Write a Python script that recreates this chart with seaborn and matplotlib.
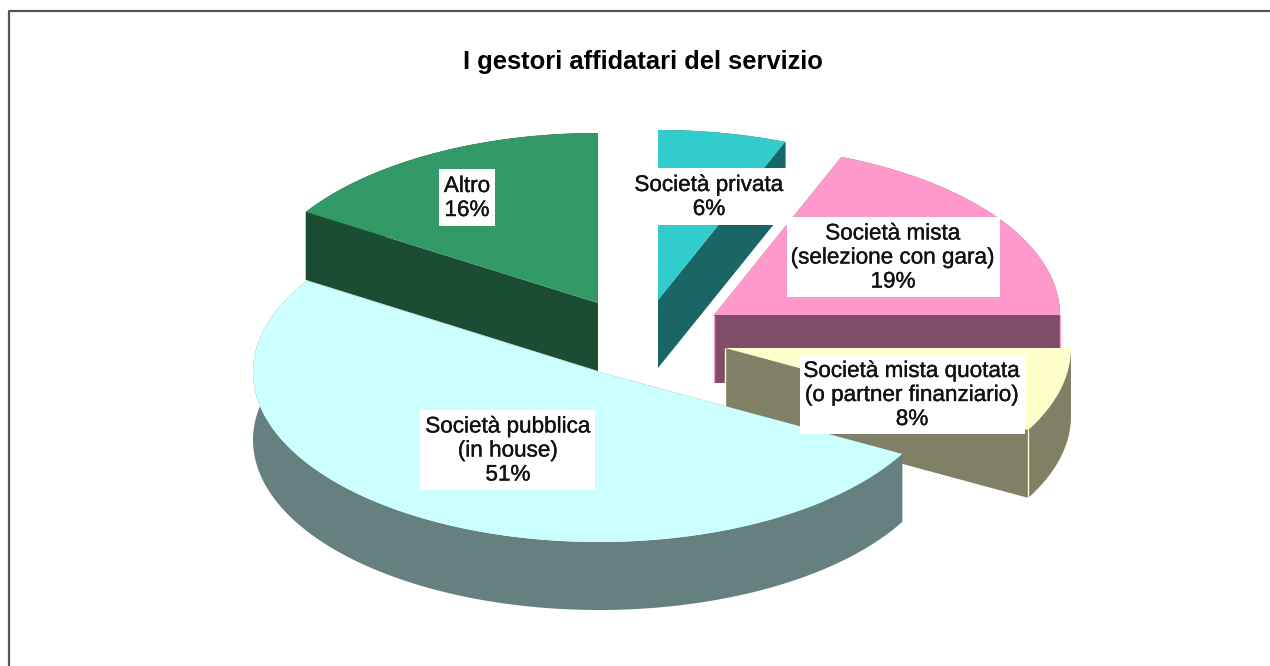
import numpy as np
import pandas as pd
import matplotlib
matplotlib.use("Agg")
import matplotlib.pyplot as plt
import matplotlib.patheffects as pe
import seaborn as sns

# Share of operators by type, in percent
categories = ["Società privata", "Società mista\n(selezione con gara)",
              "Società mista quotata\n(o partner finanziario)",
              "Società pubblica\n(in house)", "Altro"]
shares = [6, 19, 8, 51, 16]
top_colors = ["#33CCCC", "#FF99CC", "#FFFFCC", "#CCFFFF", "#339966"]
wall_colors = ["#1A6666", "#804D66", "#808066", "#668080", "#1A4D33"]
title_text = "I gestori affidatari del servizio"

# Slice apex positions (exploded pie) and label boxes, in canvas pixels
apex_x = [658, 714, 725, 599, 598]
apex_y = [300, 315, 348, 372, 303]
box_left = [631, 787, 800, 420, 439]
box_right = [787, 1000, 1025, 595, 495]
box_top = [168, 217, 355, 410, 169]
box_bottom = [225, 297, 434, 490, 226]
label_x = [709, 893, 912, 508, 467]
seamed = [False, True, True, False, False]

RX, RY, DEPTH = 346, 170, 68
W, H = 1270, 666

sns.set_theme(style="white")
plt.rcParams["font.family"] = ["Liberation Sans", "DejaVu Sans"]

table = pd.DataFrame({"label": categories, "share": shares, "top": top_colors,
                      "wall": wall_colors, "ax": apex_x, "ay": apex_y,
                      "l": box_left, "r": box_right, "t": box_top, "b": box_bottom,
                      "tx": label_x, "seam": seamed})
table["end"] = table["share"].cumsum() / table["share"].sum() * 2 * np.pi
table["start"] = table["end"].shift(fill_value=0.0)

fig = plt.figure(figsize=(W / 100, H / 100), dpi=100, facecolor="white")
ax = fig.add_axes([0, 0, 1, 1])
ax.set_xlim(0, W)
ax.set_ylim(H, 0)
ax.axis("off")


def rim(row, n=160):
    """Outer edge of a slice; angles run clockwise from twelve o'clock."""
    theta = np.linspace(row.start, row.end, n)
    return row.ax + RX * np.sin(theta), row.ay - RY * np.cos(theta)


def draw_slice(row, order):
    xs, ys = rim(row)
    # Cut faces first, then the curved outer wall on its lower half
    for x_end, y_end in [(xs[0], ys[0]), (xs[-1], ys[-1])]:
        ax.fill([row.ax, x_end, x_end, row.ax],
                [row.ay, y_end, y_end + DEPTH, row.ay + DEPTH],
                color=row.wall, lw=0, zorder=order)
    ax.fill(np.r_[xs, xs[::-1]], np.r_[ys, ys[::-1] + DEPTH],
            color=row.wall, lw=0, zorder=order)
    ax.fill(np.r_[row.ax, xs], np.r_[row.ay, ys], color=row.top, lw=0, zorder=order + 0.5)
    if row.seam:
        for x_end, y_end in [(row.ax, row.ay), (xs[-1], ys[-1])]:
            ax.plot([x_end, x_end], [y_end, y_end + DEPTH], color=row.top, lw=1.0,
                    solid_capstyle="butt", zorder=order + 0.6)


# Back slices are painted before the front ones
for order, idx in enumerate([4, 0, 1, 2, 3]):
    draw_slice(table.iloc[idx], order + 1)

# A hairline stroke gives the labels their slightly heavy look
heavier = [pe.withStroke(linewidth=0.25, foreground="#111111")]
for row in table.itertuples():
    ax.fill([row.l, row.r, row.r, row.l], [row.t, row.t, row.b, row.b],
            color="white", lw=0, zorder=10)
    ax.text(row.tx, (row.t + row.b) / 2 + 1,
            f"{row.label}\n{row.share}%", ha="center", va="center",
            fontsize=16.2, color="#111111", linespacing=1.19, zorder=11,
            path_effects=heavier)

ax.text(642.5, 62, title_text, ha="center", va="center", fontsize=18.4,
        fontweight="bold", color="black")

# Chart frame: only the top and left rules are on the canvas
ax.plot([8.5, 8.5, W], [H, 10.5, 10.5], color="#555555", lw=1.6, clip_on=False)

fig.savefig("out.png", dpi=100)
